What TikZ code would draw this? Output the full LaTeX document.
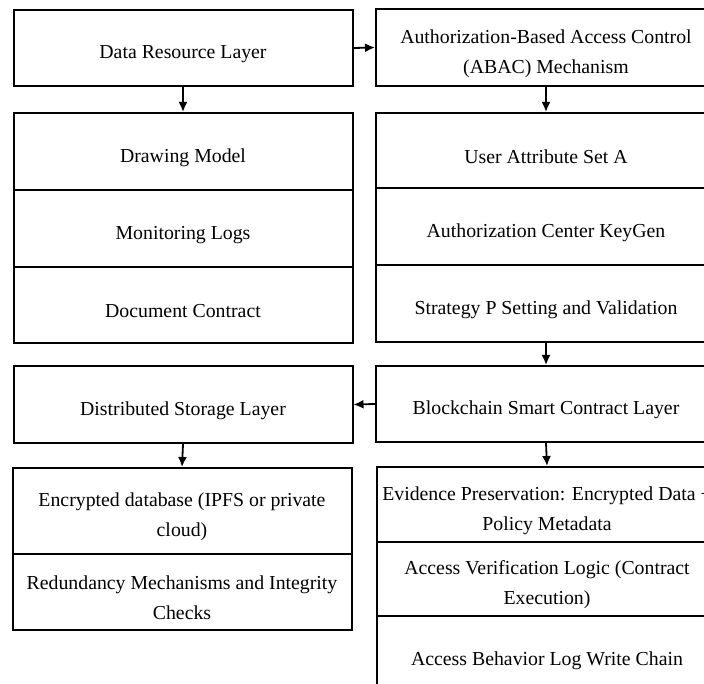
\documentclass[tikz,border=0pt]{standalone}
\usepackage{fontspec}
\setmainfont{Liberation Serif}
\usetikzlibrary{arrows.meta}
\newcommand{\topstrut}{\rule{0pt}{26pt}}

\begin{document}
\begin{tikzpicture}[x=1pt, y=-1pt,
  font=\fontsize{19.8}{30}\selectfont,
  layerbox/.style={draw, line width=2pt, inner sep=0pt, align=center,
    minimum width=339pt, minimum height=76pt},
  flow/.style={line width=1.8pt, -{Latex[length=10pt,width=9pt]}}]

\useasboundingbox (0,0) rectangle (704,684);

% left column
\node[layerbox] (dataLayer) at (183,48) {\topstrut Data Resource Layer};
\node[layerbox, minimum height=77pt] (drawModel) at (183,151.5) {\topstrut Drawing Model};
\node[layerbox, minimum height=77pt] (monLogs) at (183,228.5) {\topstrut Monitoring Logs};
\node[layerbox] (docContract) at (183,305) {\topstrut Document Contract};
\node[layerbox, minimum height=77pt] (storeLayer) at (183,404.5) {\topstrut Distributed Storage Layer};
\node[layerbox, minimum height=86pt] (encDb) at (182,511) {\topstrut Encrypted database (IPFS or private\\cloud)};
\node[layerbox] (redund) at (182,592) {\topstrut Redundancy Mechanisms and Integrity\\Checks};

% right column
\node[layerbox, minimum width=340pt, minimum height=77pt] (abac) at (546,47.5) {\topstrut Authorization-Based Access Control\\(ABAC) Mechanism};
\node[layerbox, minimum width=340pt, minimum height=75pt] (userAttr) at (546,150.5) {\topstrut User Attribute Set A};
\node[layerbox, minimum width=340pt, minimum height=77pt] (keyGen) at (546,226.5) {\topstrut Authorization Center KeyGen};
\node[layerbox, minimum width=340pt, minimum height=77pt] (strategy) at (546,303.5) {\topstrut Strategy P Setting and Validation};
\node[layerbox, minimum width=340pt] (chainLayer) at (546,404) {\topstrut Blockchain Smart Contract Layer};
\node[layerbox, minimum width=340pt, minimum height=75pt] (evidence) at (547,504.5) {\topstrut Evidence Preservation: Encrypted Data +\\Policy Metadata};
\node[layerbox, minimum width=340pt, minimum height=74pt] (verify) at (547,579) {\topstrut Access Verification Logic (Contract\\Execution)};
\node[layerbox, minimum width=340pt, minimum height=78pt] (logChain) at (547,655) {\topstrut Access Behavior Log Write Chain};

% connectors
\draw[flow] (dataLayer.south) -- (drawModel.north);
\draw[flow] (dataLayer.east) -- (abac.west);
\draw[flow] (abac.south) -- (userAttr.north);
\draw[flow] (strategy.south) -- (chainLayer.north);
\draw[flow] (chainLayer.west) -- (storeLayer.east);
\draw[flow] (storeLayer.south) -- (encDb.north);
\draw[flow] (chainLayer.south) -- (evidence.north);

\end{tikzpicture}
\end{document}
